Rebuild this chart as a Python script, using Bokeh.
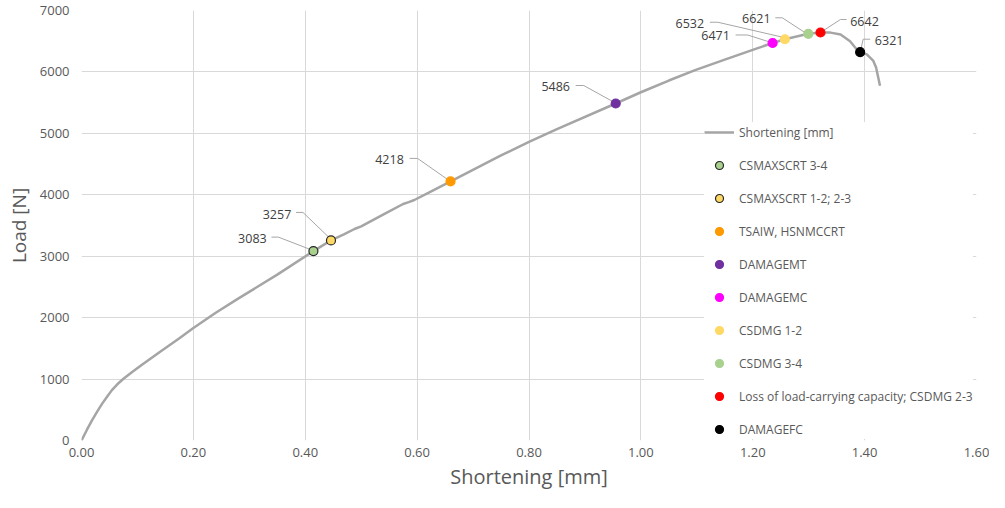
from bokeh.plotting import figure
from bokeh.models import Range1d, FixedTicker, NumeralTickFormatter, Legend, LegendItem, ColumnDataSource
from bokeh.core.properties import value
from bokeh.embed import file_html
from bokeh.resources import INLINE

# ---- data ----
curve_x = [0, 0.01, 0.019, 0.028, 0.037, 0.046, 0.054, 0.064, 0.075, 0.09, 0.1075, 0.14, 0.175, 0.2,
           0.24, 0.28, 0.35, 0.4146, 0.446, 0.47, 0.488, 0.50, 0.54, 0.575, 0.585, 0.595, 0.62, 0.66,
           0.75, 0.80, 0.85, 0.955, 1.0, 1.05, 1.097, 1.15, 1.20, 1.2355, 1.2574, 1.2993, 1.3211,
           1.339, 1.357, 1.374, 1.386, 1.392, 1.404, 1.4156, 1.4205, 1.4275]
curve_y = [0, 180, 333, 470, 600, 715, 816, 915, 1005, 1110, 1228, 1442, 1665, 1832,
           2080, 2310, 2700, 3083, 3257, 3360, 3443, 3486, 3680, 3850, 3880, 3915, 4030, 4218,
           4640, 4860, 5070, 5486, 5669, 5860, 6030, 6200, 6360, 6471, 6532, 6621, 6642,
           6640, 6608, 6500, 6366, 6321, 6286, 6178, 6071, 5776]

marker_names = ["CSMAXSCRT 3-4", "CSMAXSCRT 1-2; 2-3", "TSAIW, HSNMCCRT", "DAMAGEMT", "DAMAGEMC",
                "CSDMG 1-2", "CSDMG 3-4", "Loss of load-carrying capacity; CSDMG 2-3", "DAMAGEFC"]
marker_x = [0.4146, 0.446, 0.6597, 0.955, 1.2355, 1.2574, 1.2993, 1.3211, 1.392]
marker_y = [3083, 3257, 4218, 5486, 6471, 6532, 6621, 6642, 6321]

x_ticks = [0, 0.2, 0.4, 0.6, 0.8, 1.0, 1.2, 1.4, 1.6]
y_ticks = [0, 1000, 2000, 3000, 4000, 5000, 6000, 7000]

# ---- styles ----
marker_fill = ["#A9D18E", "#FFD966", "#FF9900", "#7030A0", "#FF00FF", "#FFD966", "#A9D18E", "#FF0000", "#000000"]
marker_line = ["#262626", "#262626", "#FF9900", "#7030A0", "#FF00FF", "#FFD966", "#A9D18E", "#FF0000", "#000000"]
# label offsets in screen px (dx, dy; dy positive = down)
label_dx = [-61, -54, -61, -60, -57, -95, -52, 44, 29]
label_dy = [-13, -26, -22, -17, -7, -16, -15, -11, -12]
leader_px = [
    [(-42, -14), (-35, -14), (-4, -2)],
    [(-35, -28), (-28, -28), (-3, -4)],
    [(-41, -23), (-33, -23), (-3, -2)],
    [(-40, -18), (-32, -18), (-3, -2)],
    [(-37, -8), (-25, -8), (-3, -1)],
    [(-75, -17), (-67, -17), (-2, -2)],
    [(-33, -16), (-26, -16), (-3, -1)],
    [(26, -13), (20, -13), (3, -2)],
    [(10, -13), (3, -13), (1, -4)],
]

W, H = 989, 492
BL, BR, BT, BB = 81, 13, 10, 52
FONT = "Open Sans"
TXT = "#595959"

p = figure(width=W, height=H, output_backend="svg", toolbar_location=None,
           x_range=Range1d(0, 1.6), y_range=Range1d(0, 7000),
           min_border_left=BL, min_border_right=BR, min_border_top=BT, min_border_bottom=BB)
p.outline_line_color = None
p.background_fill_color = "white"
p.border_fill_color = "white"

p.xaxis.ticker = FixedTicker(ticks=x_ticks)
p.yaxis.ticker = FixedTicker(ticks=y_ticks)
p.xaxis.formatter = NumeralTickFormatter(format="0.00")
p.yaxis.formatter = NumeralTickFormatter(format="0")
p.xgrid.ticker = FixedTicker(ticks=x_ticks)
p.ygrid.ticker = FixedTicker(ticks=y_ticks)
p.grid.grid_line_color = "#D9D9D9"
p.grid.grid_line_width = 1

for ax in (p.xaxis, p.yaxis):
    ax.axis_line_color = None
    ax.major_tick_line_color = None
    ax.minor_tick_line_color = None
    ax.major_tick_out = 0
    ax.major_tick_in = 0
    ax.major_label_text_font = FONT
    ax.major_label_text_font_size = "13px"
    ax.major_label_text_color = TXT
    ax.axis_label_text_font = FONT
    ax.axis_label_text_font_style = "normal"
    ax.axis_label_text_color = TXT

p.xaxis.axis_label = "Shortening [mm]"
p.yaxis.axis_label = "Load [N]"
p.xaxis.axis_label_text_font_size = "20px"
p.yaxis.axis_label_text_font_size = "19px"
p.xaxis.major_label_standoff = 7
p.xaxis.axis_label_standoff = 3
p.yaxis.major_label_standoff = 12
p.yaxis.axis_label_standoff = 5

line_r = p.line(curve_x, curve_y, line_color="#A5A5A5", line_width=2.5)

# leader lines (pixel offsets converted to data units)
xs_scale = (W - BL - BR) / 1.6
ys_scale = (H - BT - BB) / 7000.0
lx, ly = [], []
for mx, my, pts in zip(marker_x, marker_y, leader_px):
    lx.append([mx + dx / xs_scale for dx, dy in pts])
    ly.append([my - dy / ys_scale for dx, dy in pts])
p.multi_line(lx, ly, line_color="#A6A6A6", line_width=1)

items = [LegendItem(label="Shortening [mm]", renderers=[line_r])]
for i, name in enumerate(marker_names):
    r = p.scatter([marker_x[i]], [marker_y[i]], size=9, fill_color=marker_fill[i],
                  line_color=marker_line[i], line_width=1.2)
    items.append(LegendItem(label=name, renderers=[r]))

src = ColumnDataSource(dict(x=marker_x, y=marker_y, t=[str(v) for v in marker_y],
                            dx=label_dx, dy=label_dy))
p.text(x="x", y="y", text="t", x_offset="dx", y_offset="dy", source=src,
       text_font=value(FONT), text_font_size="12.5px", text_color="#404040",
       text_align="center", text_baseline="middle")

legend = Legend(items=items, location=(623, 1), orientation="vertical",
                background_fill_color="white", background_fill_alpha=1.0,
                border_line_color=None, padding=8, spacing=13, margin=0,
                glyph_width=30, glyph_height=20, label_height=20, label_standoff=5,
                label_text_font=FONT, label_text_font_size="12px", label_text_color=TXT)
p.add_layout(legend, "center")

open("out.html", "w").write(file_html(p, INLINE))
